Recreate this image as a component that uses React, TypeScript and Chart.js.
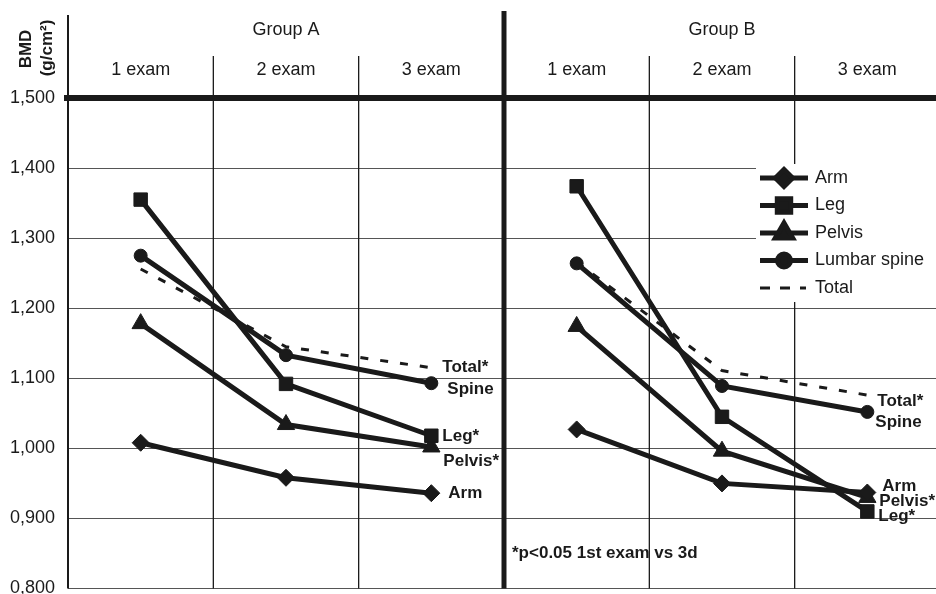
import React, { useEffect, useRef } from 'react';
import { Chart, registerables } from 'chart.js';
import { drawPoint } from 'chart.js/helpers';

Chart.register(...registerables);

// ---- data ----
const groups = ['Group A', 'Group B'];
const exams = ['1 exam', '2 exam', '3 exam'];
const yTickLabels = ['0,800', '0,900', '1,000', '1,100', '1,200', '1,300', '1,400', '1,500'];
const seriesNames = ['Arm', 'Leg', 'Pelvis', 'Lumbar spine', 'Total'];

const armA = [1.008, 0.958, 0.936];
const armB = [1.027, 0.95, 0.937];
const legA = [1.355, 1.092, 1.018];
const legB = [1.374, 1.045, 0.91];
const pelvisA = [1.178, 1.034, 1.002];
const pelvisB = [1.174, 0.996, 0.93];
const spineA = [1.275, 1.133, 1.093];
const spineB = [1.264, 1.089, 1.052];
const totalA = [1.256, 1.145, 1.115];
const totalB = [1.266, 1.111, 1.076];

const endLabelsA = ['Total*', 'Spine', 'Leg*', 'Pelvis*', 'Arm'];
const endLabelValuesA = [1.115, 1.084, 1.017, 0.982, 0.936];
const endLabelsB = ['Total*', 'Spine', 'Arm', 'Pelvis*', 'Leg*'];
const endLabelValuesB = [1.067, 1.037, 0.946, 0.924, 0.903];
const footnote = '*p<0.05 1st exam vs 3d';

// ---- styling ----
const FONT = '"Liberation Sans", Arial, Helvetica, sans-serif';
const INK = '#1a1a1a';

const toPoints = (a: number[], b: number[]) => [
  ...a.map((v, i) => ({ x: i, y: v })),
  { x: 2.5, y: null },
  ...b.map((v, i) => ({ x: i + 3, y: v })),
];

const framePlugin = {
  id: 'frame',
  beforeDatasetsDraw(chart: any) {
    const { ctx, chartArea } = chart;
    const xs = chart.scales.x;
    const seg = (x1: number, y1: number, x2: number, y2: number) => {
      ctx.beginPath();
      ctx.moveTo(x1, y1);
      ctx.lineTo(x2, y2);
      ctx.stroke();
    };
    ctx.save();
    ctx.strokeStyle = INK;
    ctx.lineWidth = 1.3;
    [0.5, 1.5, 3.5, 4.5].forEach((v) => {
      const px = xs.getPixelForValue(v);
      seg(px, 56, px, chartArea.bottom);
    });
    ctx.lineWidth = 2;
    seg(chartArea.left, 15, chartArea.left, chartArea.bottom);
    ctx.lineWidth = 5;
    const sp = xs.getPixelForValue(2.5);
    seg(sp, 11, sp, chartArea.bottom);
    ctx.lineWidth = 6;
    seg(chartArea.left - 4, chartArea.top, chartArea.right, chartArea.top);
    // legend background
    ctx.fillStyle = '#ffffff';
    ctx.fillRect(756, 164, chartArea.right - 756, 138);
    ctx.restore();
  },
  afterDatasetsDraw(chart: any) {
    const { ctx } = chart;
    const xs = chart.scales.x;
    const ys = chart.scales.y;
    ctx.save();
    ctx.fillStyle = INK;
    ctx.textBaseline = 'middle';

    // header
    ctx.font = `18px ${FONT}`;
    ctx.textAlign = 'center';
    groups.forEach((g, gi) => {
      ctx.fillText(g, xs.getPixelForValue(gi * 3 + 1), 30);
      exams.forEach((e, ei) => {
        ctx.fillText(e, xs.getPixelForValue(gi * 3 + ei), 70);
      });
    });

    // y title
    ctx.font = `bold 17px ${FONT}`;
    ctx.save();
    ctx.translate(26, 49);
    ctx.rotate(-Math.PI / 2);
    ctx.fillText('BMD', 0, 0);
    ctx.restore();
    ctx.save();
    ctx.translate(47, 48);
    ctx.rotate(-Math.PI / 2);
    ctx.fillText('(g/cm\u00B2)', 0, 0);
    ctx.restore();

    // end labels
    ctx.textAlign = 'left';
    ctx.font = `bold 17px ${FONT}`;
    const dxA = [11, 16, 11, 12, 17];
    endLabelsA.forEach((t, i) => {
      ctx.fillText(t, xs.getPixelForValue(2) + dxA[i], ys.getPixelForValue(endLabelValuesA[i]));
    });
    const dxB = [10, 8, 15, 12, 11];
    endLabelsB.forEach((t, i) => {
      ctx.fillText(t, xs.getPixelForValue(5) + dxB[i], ys.getPixelForValue(endLabelValuesB[i]));
    });

    // footnote
    ctx.fillText(footnote, 512, 553);

    // legend
    const rowY = [178, 205.5, 233, 260.5, 288];
    chart.data.datasets.forEach((ds: any, i: number) => {
      const y = rowY[i];
      ctx.save();
      ctx.strokeStyle = ds.borderColor;
      ctx.lineWidth = ds.borderWidth;
      ctx.setLineDash(ds.legendDash || []);
      ctx.beginPath();
      ctx.moveTo(760, y);
      ctx.lineTo(ds.legendDash ? 806 : 808, y);
      ctx.stroke();
      ctx.setLineDash([]);
      if (ds.pointRadius > 0) {
        ctx.fillStyle = ds.pointBackgroundColor;
        ctx.strokeStyle = ds.pointBorderColor;
        drawPoint(ctx, { pointStyle: ds.pointStyle, radius: ds.pointRadius, rotation: 0, borderWidth: 1 }, 784, y);
      }
      ctx.restore();
      ctx.fillStyle = INK;
      ctx.font = `18px ${FONT}`;
      ctx.textAlign = 'left';
      ctx.fillText(ds.label, 815, y);
    });
    ctx.restore();
  },
};

const makeDataset = (label: string, a: number[], b: number[], style: any, radius: number) => ({
  label,
  data: toPoints(a, b),
  borderColor: INK,
  backgroundColor: INK,
  pointBackgroundColor: INK,
  pointBorderColor: INK,
  borderWidth: 5,
  pointStyle: style,
  pointRadius: radius,
  pointBorderWidth: 1,
  tension: 0,
});

export default function App() {
  const ref = useRef<HTMLCanvasElement>(null);
  useEffect(() => {
    if (!ref.current) return;
    const datasets: any[] = [
      makeDataset(seriesNames[0], armA, armB, 'rectRot', 8.5),
      makeDataset(seriesNames[1], legA, legB, 'rect', 9.5),
      makeDataset(seriesNames[2], pelvisA, pelvisB, 'triangle', 10),
      makeDataset(seriesNames[3], spineA, spineB, 'circle', 6.5),
      {
        ...makeDataset(seriesNames[4], totalA, totalB, 'circle', 0),
        borderWidth: 3,
        borderDash: [8, 12],
        legendDash: [10, 10],
        pointHoverRadius: 0,
      },
    ];
    const chart = new Chart(ref.current, {
      type: 'line',
      data: { datasets },
      options: {
        animation: false,
        responsive: false,
        devicePixelRatio: 1,
        layout: { autoPadding: false, padding: { top: 98, bottom: 5.5, left: 0, right: 0 } },
        plugins: { legend: { display: false }, tooltip: { enabled: false } },
        scales: {
          x: { type: 'linear', min: -0.5, max: 5.4725, display: false },
          y: {
            type: 'linear',
            position: 'left',
            min: 0.8,
            max: 1.5,
            border: { display: false },
            grid: { drawTicks: false, color: '#555', lineWidth: 1 },
            ticks: {
              stepSize: 0.1,
              padding: 13,
              color: INK,
              font: { family: FONT, size: 18 },
              callback: (_v: any, i: number) => yTickLabels[i],
            },
            afterFit: (s: any) => {
              s.width = 68;
              s.paddingTop = 0;
              s.paddingBottom = 0;
            },
          },
        },
      } as any,
      plugins: [framePlugin],
    });
    return () => chart.destroy();
  }, []);
  return (
    <div style={{ position: 'absolute', left: 0, top: 0, width: 936, height: 594, background: '#fff' }}>
      <canvas ref={ref} width={936} height={594} style={{ display: 'block' }} />
    </div>
  );
}
